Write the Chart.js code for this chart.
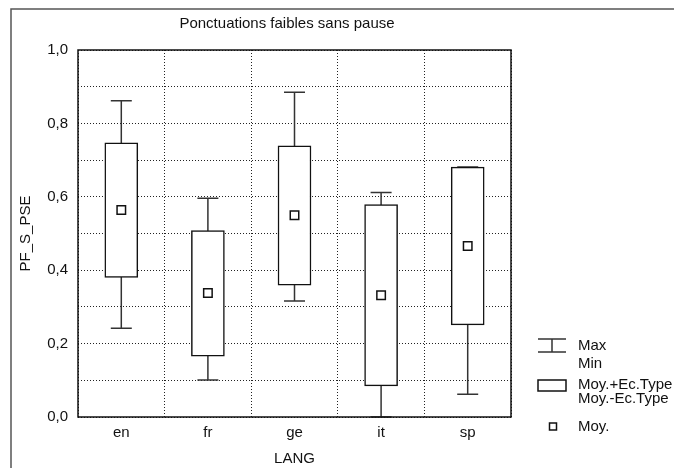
<!DOCTYPE html>
<html>
<head>
<meta charset="utf-8">
<script src="https://cdn.jsdelivr.net/npm/chart.js@4"></script>
<style>
  body { margin: 0; background: #fff; }
  #wrap { width: 674px; height: 468px; }
</style>
</head>
<body>
<div id="wrap"><canvas id="graphics"></canvas></div>
<script>
const langs = ['en', 'fr', 'ge', 'it', 'sp'];
const moy = [0.564, 0.338, 0.550, 0.332, 0.466];
const boxLow = [0.380, 0.166, 0.359, 0.085, 0.251];
const boxHigh = [0.747, 0.508, 0.739, 0.579, 0.681];
const minVals = [0.242, 0.101, 0.316, 0.0, 0.062];
const maxVals = [0.862, 0.596, 0.885, 0.612, 0.681];

const FONT = { family: "'Liberation Sans', Arial, sans-serif", size: 15 };

// whiskers (min - max) drawn under the boxes
const whiskers = {
    id: 'whiskers',
    beforeDatasetsDraw(chart) {
        const ctx = chart.ctx;
        const x = chart.scales.x, y = chart.scales.y;
        ctx.save();
        ctx.strokeStyle = '#333';
        ctx.lineWidth = 1.5;
        langs.forEach((l, i) => {
            const px = x.getPixelForValue(i);
            const top = y.getPixelForValue(maxVals[i]);
            const bot = y.getPixelForValue(minVals[i]);
            ctx.beginPath();
            ctx.moveTo(px, top); ctx.lineTo(px, bot);
            ctx.moveTo(px - 10.5, top); ctx.lineTo(px + 10.5, top);
            ctx.moveTo(px - 10.5, bot); ctx.lineTo(px + 10.5, bot);
            ctx.stroke();
        });
        ctx.restore();
    }
};

// frame, title, plot border and legend
const decor = {
    id: 'decor',
    beforeDraw(chart) {
        const ctx = chart.ctx;
        ctx.save();
        ctx.fillStyle = '#fff';
        ctx.fillRect(0, 0, chart.width, chart.height);
        ctx.strokeStyle = '#555';
        ctx.lineWidth = 1.5;
        ctx.beginPath();
        ctx.moveTo(11, chart.height);
        ctx.lineTo(11, 9);
        ctx.lineTo(chart.width, 9);
        ctx.stroke();
        ctx.restore();
    },
    afterDraw(chart) {
        const ctx = chart.ctx;
        const a = chart.chartArea;
        ctx.save();
        ctx.strokeStyle = '#111';
        ctx.lineWidth = 1.5;
        ctx.strokeRect(a.left, a.top, a.right - a.left, a.bottom - a.top);

        ctx.fillStyle = '#111';
        ctx.font = FONT.size + 'px ' + FONT.family;
        ctx.textAlign = 'center';
        ctx.textBaseline = 'middle';
        ctx.fillText('Ponctuations faibles sans pause', 287, 24);

        // legend
        ctx.textAlign = 'left';
        ctx.strokeStyle = '#333';
        ctx.beginPath();
        ctx.moveTo(538, 339); ctx.lineTo(566, 339);
        ctx.moveTo(552, 339); ctx.lineTo(552, 352);
        ctx.moveTo(538, 352); ctx.lineTo(566, 352);
        ctx.stroke();
        ctx.fillText('Max', 578, 346);
        ctx.fillText('Min', 578, 364);

        ctx.strokeStyle = '#111';
        ctx.strokeRect(538, 380, 28, 11);
        ctx.fillText('Moy.+Ec.Type', 578, 385);
        ctx.fillText('Moy.-Ec.Type', 578, 399);

        ctx.strokeRect(549.5, 423, 7, 7);
        ctx.fillText('Moy.', 578, 427);
        ctx.restore();
    }
};

new Chart(document.getElementById('graphics'), {
    type: 'bar',
    data: {
        labels: langs,
        datasets: [{
            label: 'Moy.+-Ec.Type',
            data: boxLow.map((l, i) => [l, boxHigh[i]]),
            backgroundColor: '#fff',
            borderColor: '#111',
            borderWidth: 1.5,
            borderSkipped: false,
            barThickness: 33,
            grouped: false,
            order: 2
        }, {
            type: 'line',
            label: 'Moy.',
            data: moy,
            showLine: false,
            pointStyle: 'rect',
            pointRadius: 6,
            pointHoverRadius: 6,
            pointBackgroundColor: '#fff',
            pointBorderColor: '#111',
            pointBorderWidth: 1.5,
            order: 1
        }]
    },
    options: {
        responsive: true,
        maintainAspectRatio: false,
        animation: false,
        layout: { padding: { top: 50, right: 163, left: 0, bottom: 0 } },
        plugins: {
            legend: { display: false },
            title: { display: false },
            tooltip: { enabled: false }
        },
        scales: {
            x: {
                grid: { color: '#222', drawTicks: false, offset: true },
                border: { display: false, dash: [1, 2] },
                ticks: { color: '#111', font: FONT, padding: 7 },
                title: { display: true, text: 'LANG', color: '#111', font: FONT, padding: { top: 0, bottom: 0 } },
                afterFit(s) { s.height = 51; }
            },
            y: {
                min: 0,
                max: 1,
                grid: { color: '#222', drawTicks: false },
                border: { display: false, dash: [1, 2] },
                ticks: {
                    stepSize: 0.1,
                    autoSkip: false,
                    color: '#111',
                    font: FONT,
                    padding: 10,
                    callback: (v) => Math.round(v * 10) % 2 === 0 ? v.toFixed(1).replace('.', ',') : ''
                },
                title: { display: true, text: 'PF_S_PSE', color: '#111', font: FONT, padding: { top: 17, bottom: 0 } },
                afterFit(s) { s.width = 78; }
            }
        }
    },
    plugins: [whiskers, decor]
});
</script>
</body>
</html>
